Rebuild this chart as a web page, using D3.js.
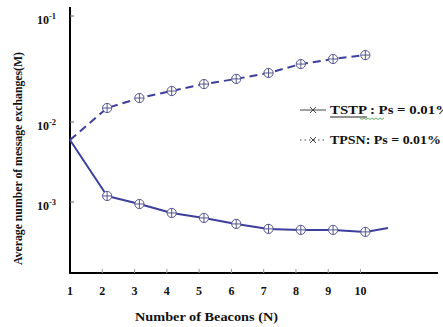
<!DOCTYPE html>
<html>
<head>
<meta charset="utf-8">
<script src="https://cdn.jsdelivr.net/npm/d3@7"></script>
<style>
  body { margin: 0; background: #fff; }
  text { font-family: "Liberation Serif", "DejaVu Serif", serif; font-weight: bold; fill: #111; }
</style>
</head>
<body>
<script>
const beacons = [1, 2, 3, 4, 5, 6, 7, 8, 9, 10];
const markerX = [1, 2.15, 3.15, 4.15, 5.15, 6.15, 7.15, 8.15, 9.15, 10.15];
const tstp = [0.00596, 0.00119, 0.000944, 0.000729, 0.000631, 0.000531, 0.00046, 0.000447, 0.000447, 0.000422];
const tpsn = [0.00596, 0.01355, 0.01683, 0.0196, 0.0228, 0.0255, 0.029, 0.0352, 0.0393, 0.0428];
const tstpEnd = [10.85, 0.000473];
const yTicks = [1e-3, 1e-2, 1e-1];
const yTickExp = ["-3", "-2", "-1"];
const xMax = 12.4;
const yMin = Math.pow(10, -3.89), yMax = Math.pow(10, -0.915);

const width = 443, height = 327;
const color = "#3d3f9c";

const svg = d3.select("body").append("svg")
  .attr("width", width)
  .attr("height", height);

const x = d3.scaleLinear().domain([1, xMax]).range([70, 438]);
// the printed axis isn't evenly spaced per decade, so piecewise log
const y = d3.scaleLog()
  .domain([yMin, 1e-3, 1e-2, 1e-1, yMax])
  .range([273, 202, 122, 16, 7]);

// axes
svg.append("line")
  .attr("x1", x(1)).attr("x2", x(1))
  .attr("y1", y(yMax)).attr("y2", y(yMin))
  .attr("stroke", "#000").attr("stroke-width", 2);
svg.append("line")
  .attr("x1", x(1) - 1).attr("x2", x(xMax))
  .attr("y1", y(yMin)).attr("y2", y(yMin))
  .attr("stroke", "#000").attr("stroke-width", 2);

svg.selectAll(".xt").data(beacons.slice(1)).enter().append("line")
  .attr("x1", d => x(d)).attr("x2", d => x(d))
  .attr("y1", y(yMin) - 4).attr("y2", y(yMin))
  .attr("stroke", "#999").attr("stroke-width", 1);

svg.selectAll(".xl").data(beacons).enter().append("text")
  .attr("x", d => x(d))
  .attr("y", 295)
  .attr("text-anchor", "middle")
  .attr("font-size", 12)
  .text(d => d);

svg.selectAll(".yt").data(yTicks).enter().append("line")
  .attr("x1", x(1)).attr("x2", x(1) + 4)
  .attr("y1", d => y(d)).attr("y2", d => y(d))
  .attr("stroke", "#666").attr("stroke-width", 1);

const yl = svg.selectAll(".yl").data(yTicks).enter().append("text")
  .attr("x", 37)
  .attr("y", d => y(d) + 8)
  .attr("font-size", 12);
yl.append("tspan").text("10");
yl.append("tspan").attr("dy", -5).attr("font-size", 8.5).text((d, i) => yTickExp[i]);

// titles
svg.append("text")
  .attr("x", 135).attr("y", 321)
  .attr("font-size", 12.5)
  .attr("textLength", 143)
  .attr("lengthAdjust", "spacingAndGlyphs")
  .text("Number of Beacons (N)");

svg.append("text")
  .attr("transform", "translate(22,265) rotate(-90)")
  .attr("font-size", 12.3)
  .attr("textLength", 213)
  .attr("lengthAdjust", "spacingAndGlyphs")
  .text("Average number of message exchanges(M)");

// series
const line = d3.line().x(d => x(d[0])).y(d => y(d[1]));

const tstpPts = markerX.map((v, i) => [v, tstp[i]]);
const tpsnPts = markerX.map((v, i) => [v, tpsn[i]]);

svg.append("path")
  .datum(tstpPts.concat([tstpEnd]))
  .attr("d", line)
  .attr("fill", "none")
  .attr("stroke", color)
  .attr("stroke-width", 2)
  .attr("stroke-linejoin", "round");

svg.append("path")
  .datum(tpsnPts)
  .attr("d", line)
  .attr("fill", "none")
  .attr("stroke", color)
  .attr("stroke-width", 2)
  .attr("stroke-dasharray", "8,5");

function drawMarkers(pts) {
  const g = svg.append("g").selectAll("g")
    .data(pts.slice(1))
    .enter().append("g")
    .attr("transform", d => `translate(${x(d[0])},${y(d[1])})`);
  g.append("circle").attr("r", 4.6)
    .attr("fill", "#fff").attr("stroke", "#555590").attr("stroke-width", 1);
  g.append("path").attr("d", "M-4.6,0H4.6M0,-4.6V4.6")
    .attr("stroke", "#555590").attr("stroke-width", 1);
}
drawMarkers(tstpPts);
drawMarkers(tpsnPts);

// legend
const legend = [
  { label: "TSTP : Ps = 0.01%", dash: null, y: 114, len: 120 },
  { label: "TPSN: Ps = 0.01%", dash: "1.5,3", y: 144, len: 111 }
];
legend.forEach(l => {
  svg.append("line")
    .attr("x1", 300).attr("x2", 326)
    .attr("y1", l.y - 4).attr("y2", l.y - 4)
    .attr("stroke", "#444").attr("stroke-width", 1)
    .attr("stroke-dasharray", l.dash);
  svg.append("path")
    .attr("d", `M310,${l.y - 7}l6,6M316,${l.y - 7}l-6,6`)
    .attr("stroke", "#444").attr("stroke-width", 1);
  svg.append("text")
    .attr("x", 330).attr("y", l.y)
    .attr("font-size", 13)
    .attr("textLength", l.len)
    .attr("lengthAdjust", "spacingAndGlyphs")
    .text(l.label);
});
// underline + spellcheck squiggle under the first entry
svg.append("line")
  .attr("x1", 330).attr("x2", 367)
  .attr("y1", 117).attr("y2", 117)
  .attr("stroke", "#222").attr("stroke-width", 1);
svg.append("path")
  .attr("d", d3.range(0, 13).map(i => `${i ? "L" : "M"}${360 + i * 2},${118 + (i % 2 ? 1.5 : 0)}`).join(""))
  .attr("fill", "none")
  .attr("stroke", "#3a9a3a").attr("stroke-width", 0.8);
</script>
</body>
</html>
